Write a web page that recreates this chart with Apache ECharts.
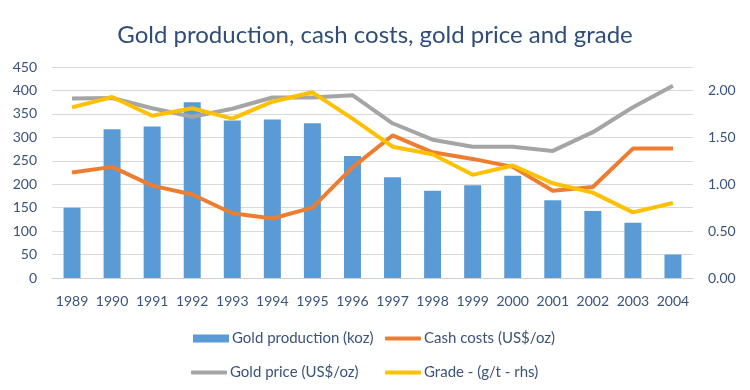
<!DOCTYPE html>
<html><head><meta charset="utf-8">
<script src="https://cdn.jsdelivr.net/npm/echarts@6/dist/echarts.min.js"></script>
<style>html,body{margin:0;padding:0;background:#fff}#c{width:750px;height:390px}</style>
</head><body><div id="c"></div>
<script>
const years = ['1989','1990','1991','1992','1993','1994','1995','1996','1997','1998','1999','2000','2001','2002','2003','2004'];
const goldProduction = [150,317,323,375,336,338,330,260,215,186,198,218,166,143,118,50];
const cashCosts = [225,237,197,178,138,127,150,236,304,268,254,237,186,194,276,276];
const goldPrice = [383,384,362,344,361,385,385,390,330,295,280,280,271,311,364,410];
const grade = [1.82,1.93,1.73,1.81,1.70,1.88,1.98,1.70,1.40,1.32,1.10,1.20,1.01,0.91,0.70,0.80];

const txt = '#3b5378';
const font = 'Lato';
const chart = echarts.init(document.getElementById('c'));
const lg = (name, left, top, icon, h) => ({
  data: [name], left: left, top: top, icon: icon, itemWidth: 36, itemHeight: h, itemGap: 4,
  textStyle: {color: txt, fontSize: 15, fontFamily: font, padding: [0,0,0,-2]}, selectedMode: false
});
chart.setOption({
  animation: false,
  title: {text: 'Gold production, cash costs, gold price and grade', left: 'center', top: 18,
    textStyle: {color: '#2f4d78', fontSize: 24, fontWeight: 'normal', fontFamily: font}},
  grid: {left: 52, right: 57, top: 67, bottom: 112},
  legend: [
    lg('Gold production (koz)', 188, 326, 'rect', 8),
    lg('Cash costs (US$/oz)', 380, 326, 'roundRect', 4),
    lg('Gold price (US$/oz)', 186, 360, 'roundRect', 4),
    lg('Grade - (g/t - rhs)', 380, 360, 'roundRect', 4)
  ],
  xAxis: {type: 'category', data: years,
    axisLine: {lineStyle: {color: '#d0d0d0', width: 1}}, axisTick: {show: false},
    axisLabel: {color: txt, fontSize: 14, fontFamily: font, margin: 16, interval: 0}},
  yAxis: [
    {type: 'value', min: 0, max: 450, interval: 50,
      axisLine: {show: false}, axisTick: {show: false},
      splitLine: {lineStyle: {color: '#d9d9d9', width: 1}},
      axisLabel: {color: txt, fontSize: 14, fontFamily: font, margin: 15}},
    {type: 'value', min: 0, max: 2.25, interval: 0.25,
      axisLine: {show: false}, axisTick: {show: false}, splitLine: {show: false},
      axisLabel: {color: txt, fontSize: 14, fontFamily: font, margin: 15,
        formatter: v => (Math.abs(v * 2 - Math.round(v * 2)) < 1e-6 ? v.toFixed(2) : '')}}
  ],
  series: [
    {name: 'Gold production (koz)', type: 'bar', data: goldProduction, barWidth: 17,
      itemStyle: {color: '#5b9bd5'}},
    {name: 'Cash costs (US$/oz)', type: 'line', data: cashCosts, showSymbol: false, symbol: 'none',
      lineStyle: {color: '#ed7d31', width: 4}, itemStyle: {color: '#ed7d31'}},
    {name: 'Gold price (US$/oz)', type: 'line', data: goldPrice, showSymbol: false, symbol: 'none',
      lineStyle: {color: '#a5a5a5', width: 4}, itemStyle: {color: '#a5a5a5'}},
    {name: 'Grade - (g/t - rhs)', type: 'line', yAxisIndex: 1, data: grade, showSymbol: false, symbol: 'none',
      lineStyle: {color: '#ffc000', width: 4}, itemStyle: {color: '#ffc000'}}
  ]
});
</script></body></html>
